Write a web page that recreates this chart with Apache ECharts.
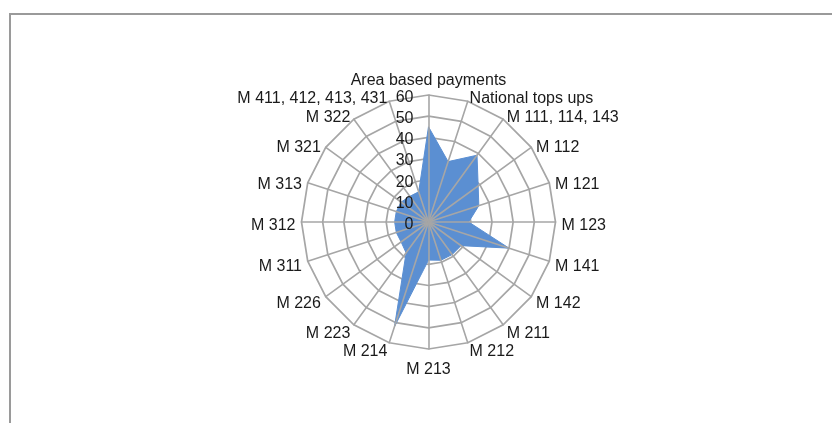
<!DOCTYPE html>
<html>
<head>
<meta charset="utf-8">
<script src="https://cdn.jsdelivr.net/npm/echarts@6/dist/echarts.min.js"></script>
<style>
  html, body { margin: 0; padding: 0; background: #ffffff; overflow: hidden; }
  #frame { position: absolute; left: 9px; top: 13px; width: 900px; height: 500px; border: 2px solid #9a9a9a; box-sizing: border-box; }
  #chart { position: absolute; left: 0; top: 0; width: 832px; height: 423px; }
</style>
</head>
<body>
<div id="frame"></div>
<div id="chart"></div>
<script>
// Categories, clockwise from the top
const categories = [
  'Area based payments', 'National tops ups', 'M 111, 114, 143', 'M 112', 'M 121',
  'M 123', 'M 141', 'M 142', 'M 211', 'M 212', 'M 213', 'M 214', 'M 223', 'M 226',
  'M 311', 'M 312', 'M 313', 'M 321', 'M 322', 'M 411, 412, 413, 431'
];
// Series values
const seriesValues = [45, 30, 39, 29, 25, 19, 40, 19, 19, 19, 18, 52, 18, 16, 16, 16, 16, 16, 15, 15];
// Value axis ticks
const axisMin = 0;
const axisMax = 60;
const axisSplits = 6;

// ECharts places radar indicators counter-clockwise; reorder to draw clockwise
const order = [0].concat(categories.map((_, i) => i).slice(1).reverse());
const FONT = 'Liberation Sans';

const indicatorsRings = order.map(i => ({ name: categories[i], min: axisMin, max: axisMax }));
const indicatorsTop = order.map((i, k) => {
  const o = { name: categories[i], min: axisMin, max: axisMax };
  if (k === 0) o.axisLabel = { show: true };
  return o;
});

const chart = echarts.init(document.getElementById('chart'), null, { renderer: 'canvas' });
chart.setOption({
  animation: false,
  backgroundColor: 'transparent',
  radar: [
    {
      z: 0,
      center: [428.5, 222],
      radius: 127,
      startAngle: 90,
      shape: 'polygon',
      splitNumber: axisSplits,
      axisName: { show: false },
      axisLine: { show: false },
      axisTick: { show: false },
      axisLabel: { show: false },
      splitLine: { show: true, lineStyle: { color: '#a6a6a6', width: 1.7 } },
      splitArea: { show: false },
      indicator: indicatorsRings
    },
    {
      z: 3,
      center: [428.5, 222],
      radius: 127,
      startAngle: 90,
      shape: 'polygon',
      splitNumber: axisSplits,
      nameGap: 6,
      axisName: {
        show: true, color: '#1a1a1a', fontFamily: FONT, fontSize: 16,
        formatter: '{n|{value}}',
        rich: { n: { color: '#1a1a1a', fontFamily: FONT, fontSize: 16, padding: [7, 0, 0, 0] } }
      },
      axisLine: { show: true, lineStyle: { color: '#a6a6a6', width: 1.6 } },
      axisTick: { show: false },
      axisLabel: {
        show: false, color: '#1a1a1a', fontFamily: FONT, fontSize: 16, margin: 15,
        formatter: '{v|{value}}',
        rich: { v: { color: '#1a1a1a', fontFamily: FONT, fontSize: 16, padding: [5, 0, 0, 0] } },
        showMinLabel: true, showMaxLabel: true, hideOverlap: false
      },
      splitLine: { show: false },
      splitArea: { show: false },
      indicator: indicatorsTop
    }
  ],
  series: [{
    type: 'radar',
    radarIndex: 0,
    z: 2,
    symbol: 'none',
    lineStyle: { color: '#5b8fd2', width: 1 },
    areaStyle: { color: '#5b8fd2', opacity: 1 },
    data: [{ value: order.map(i => seriesValues[i]) }]
  }]
});
</script>
</body>
</html>
